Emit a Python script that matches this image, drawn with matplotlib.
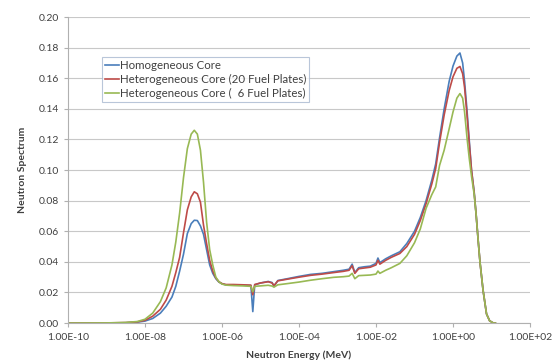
import numpy as np
import matplotlib.pyplot as plt

# ----------------------------
# Data (log10 of energy in MeV, spectrum value)
# ----------------------------

log_e = np.array([
    -10, -9, -8.5, -8.2, -8.0, -7.8, -7.6, -7.45, -7.3, -7.2, -7.1, -7.0,
    -6.9, -6.8, -6.72, -6.64, -6.56, -6.48, -6.4, -6.32, -6.24, -6.16, -6.08,
    -6.0, -5.9,
    -5.7, -5.45, -5.25, -5.20, -5.15, -5.0, -4.8, -4.7, -4.65, -4.55, -4.3,
    -4.0, -3.7, -3.4, -3.1, -2.85, -2.7, -2.62, -2.55, -2.45, -2.3, -2.15,
    -2.0, -1.95, -1.9, -1.75, -1.6, -1.38, -1.2, -1.0, -0.85, -0.7, -0.55,
    -0.45, -0.35, -0.23, -0.1, 0.0, 0.1, 0.18, 0.25, 0.3, 0.36, 0.42, 0.48,
    0.55, 0.6, 0.65, 0.7, 0.78, 0.87, 0.95, 1.05, 1.1,
])

homogeneous = [
    0.0, 0.0001, 0.0002, 0.0006, 0.0013, 0.003, 0.0065, 0.011, 0.017, 0.024,
    0.034, 0.045, 0.0585, 0.065, 0.0672, 0.067, 0.0635, 0.058, 0.048, 0.038,
    0.0325, 0.029, 0.0268, 0.0257, 0.025,
    0.0248, 0.0247, 0.0245, 0.0075, 0.025, 0.0262, 0.0272, 0.0265, 0.024,
    0.0278, 0.029, 0.0305, 0.0318, 0.0325, 0.0336, 0.0345, 0.0352, 0.0385,
    0.033, 0.0362, 0.0368, 0.0372, 0.039, 0.0425, 0.0395, 0.042, 0.044,
    0.0466, 0.052, 0.06, 0.069, 0.08, 0.0935, 0.104, 0.121, 0.14, 0.158,
    0.168, 0.1745, 0.1765, 0.17, 0.158, 0.14, 0.12, 0.1, 0.0855, 0.071,
    0.055, 0.04, 0.0215, 0.006, 0.0015, 0.0, 0.0,
]

hetero_20 = [
    0.0, 0.0001, 0.0003, 0.0008, 0.0018, 0.0045, 0.009, 0.015, 0.024, 0.033,
    0.043, 0.059, 0.074, 0.0825, 0.0858, 0.0845, 0.079, 0.064, 0.052, 0.041,
    0.034, 0.0295, 0.027, 0.0258, 0.0252,
    0.0252, 0.025, 0.0248, 0.0185, 0.0252, 0.0262, 0.027, 0.0262, 0.0245,
    0.0276, 0.0287, 0.03, 0.0312, 0.032, 0.033, 0.0338, 0.0345, 0.0375,
    0.0325, 0.0355, 0.036, 0.0365, 0.038, 0.041, 0.0385, 0.041, 0.043,
    0.0455, 0.05, 0.058, 0.067, 0.078, 0.091, 0.101, 0.118, 0.136, 0.152,
    0.161, 0.1665, 0.1677, 0.163, 0.154, 0.137, 0.118, 0.1, 0.085, 0.071,
    0.055, 0.04, 0.0215, 0.006, 0.0015, 0.0, 0.0,
]

hetero_6 = [
    0.0, 0.0001, 0.0004, 0.001, 0.0025, 0.0065, 0.014, 0.023, 0.038, 0.053,
    0.072, 0.095, 0.114, 0.1235, 0.126, 0.1235, 0.113, 0.092, 0.066, 0.048,
    0.038, 0.03, 0.027, 0.0255, 0.0248,
    0.0245, 0.0243, 0.024, 0.0205, 0.024, 0.0243, 0.0247, 0.0242, 0.0235,
    0.025, 0.0258, 0.0268, 0.028, 0.029, 0.0299, 0.0303, 0.0307, 0.0325,
    0.029, 0.031, 0.0312, 0.0314, 0.032, 0.034, 0.0325, 0.0345, 0.0362,
    0.039, 0.044, 0.0525, 0.0615, 0.075, 0.084, 0.089, 0.103, 0.113, 0.127,
    0.138, 0.147, 0.15, 0.147, 0.138, 0.122, 0.108, 0.096, 0.084, 0.071,
    0.055, 0.04, 0.0215, 0.006, 0.0015, 0.0, 0.0,
]

labels = [
    "Homogeneous Core",
    "Heterogeneous Core (20 Fuel Plates)",
    "Heterogeneous Core (  6 Fuel Plates)",
]
colors = ["#4A7EBB", "#BE4B48", "#98B954"]

tick_exp = [-10, -8, -6, -4, -2, 0, 2]
tick_labels = ["1.00E-10", "1.00E-08", "1.00E-06", "1.00E-04",
               "1.00E-02", "1.00E+00", "1.00E+02"]
y_ticks = [0.00, 0.02, 0.04, 0.06, 0.08, 0.10, 0.12, 0.14, 0.16, 0.18, 0.20]

# ----------------------------
# Plot
# ----------------------------

plt.rcParams['font.family'] = ['Lato', 'DejaVu Sans']
text_color = "#404040"

fig = plt.figure(figsize=(5.55, 3.63), dpi=100)
ax = fig.add_axes([0.1225, 0.11, 0.8325, 0.843])

energy = 10.0 ** log_e
for vals, lab, col in zip([homogeneous, hetero_20, hetero_6], labels, colors):
    ax.plot(energy, vals, color=col, lw=1.2, label=lab)

ax.set_xscale("log")
ax.set_xlim(1e-10, 1e2)
ax.set_ylim(0, 0.2)
ax.set_xticks([10.0 ** k for k in tick_exp])
ax.set_xticklabels(tick_labels)
ax.xaxis.set_minor_locator(plt.NullLocator())
ax.set_yticks(y_ticks)
ax.set_yticklabels([f"{v:.2f}" for v in y_ticks])

ax.grid(axis="y", color="#c8c8c8", lw=0.8)
ax.set_axisbelow(True)
for side in ["top", "right"]:
    ax.spines[side].set_visible(False)
for side in ["left", "bottom"]:
    ax.spines[side].set_color("#b0b0b0")
ax.tick_params(colors="#b0b0b0", labelcolor=text_color, labelsize=7.5,
               length=3, width=0.8)
ax.tick_params(axis="x", pad=4)

ax.set_xlabel("Neutron Energy (MeV)", fontsize=7.5, fontweight="bold",
              color=text_color, labelpad=6)
ax.set_ylabel("Neutron Spectrum", fontsize=7.5, fontweight="bold",
              color=text_color, labelpad=8)

leg = ax.legend(loc="upper left", bbox_to_anchor=(0.0736, 0.869),
                fontsize=8.3, frameon=True, fancybox=False, handlelength=1.2,
                handletextpad=0.1, borderpad=0.25, labelspacing=0.25,
                borderaxespad=0)
leg.get_frame().set_edgecolor("#a8b8d0")
leg.get_frame().set_linewidth(0.8)
for t in leg.get_texts():
    t.set_color(text_color)

fig.savefig("out.png", dpi=100)
